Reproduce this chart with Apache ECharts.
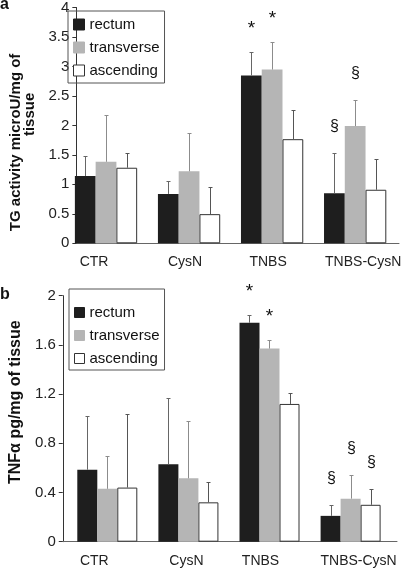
<!DOCTYPE html>
<html><head><meta charset="utf-8">
<script src="https://cdn.jsdelivr.net/npm/echarts@6/dist/echarts.min.js"></script>
<style>html,body{margin:0;padding:0;background:#fff}#c{width:404px;height:568px}</style>
</head><body><div id="c"></div>
<script>
// ---------- data ----------
const categories = ['CTR', 'CysN', 'TNBS', 'TNBS-CysN'];
const seriesNames = ['rectum', 'transverse', 'ascending'];

// panel a: TG activity
const tgTicks = [0, 0.5, 1, 1.5, 2, 2.5, 3, 3.5, 4];
const tgRectum = [1.13, 0.83, 2.82, 0.84];
const tgRectumErr = [0.33, 0.21, 0.39, 0.67];
const tgTransverse = [1.37, 1.21, 2.92, 1.97];
const tgTransverseErr = [0.78, 0.64, 0.46, 0.44];
const tgAscending = [1.27, 0.49, 1.75, 0.90];
const tgAscendingErr = [0.24, 0.45, 0.49, 0.52];
const tgRectumMark = ['', '', '*', '§'];
const tgTransverseMark = ['', '', '*', '§'];
const tgAscendingMark = ['', '', '', ''];

// panel b: TNFα
const tnfTicks = [0, 0.4, 0.8, 1.2, 1.6, 2];
const tnfRectum = [0.585, 0.63, 1.78, 0.21];
const tnfRectumErr = [0.435, 0.54, 0.06, 0.09];
const tnfTransverse = [0.43, 0.515, 1.57, 0.35];
const tnfTransverseErr = [0.27, 0.465, 0.07, 0.19];
const tnfAscending = [0.44, 0.32, 1.12, 0.30];
const tnfAscendingErr = [0.60, 0.165, 0.09, 0.13];
const tnfRectumMark = ['', '', '*', '§'];
const tnfTransverseMark = ['', '', '*', '§'];
const tnfAscendingMark = ['', '', '', '§'];

// ---------- styles ----------
const FONT = '"Liberation Sans", Arial, sans-serif';
const barColors = ['#1e1e1e', '#b5b5b5', '#ffffff'];
const barBorders = ['#1e1e1e', '#b5b5b5', '#333333'];
const errColors = ['#666666', '#8c8c8c', '#555555'];
const GAP_A = 0.25, GAP_B = 0.26;
const labelShiftA = [-12, -4, -4, 8];
const labelShiftB = [-13, -2, -9, 8];

function richLabels(shift) {
  const rich = {};
  shift.forEach((s, i) => {
    rich['l' + i] = {
      fontSize: 14, fontFamily: FONT, color: '#222',
      padding: s >= 0 ? [0, 0, 0, 2 * s] : [0, -2 * s, 0, 0]
    };
  });
  return rich;
}

function barSeries(idx, data, xi, yi, gap) {
  return {
    type: 'bar', name: seriesNames[idx], data: data,
    xAxisIndex: xi, yAxisIndex: yi,
    barGap: '0%', barCategoryGap: (gap * 100) + '%',
    itemStyle: { color: barColors[idx], borderColor: barBorders[idx], borderWidth: idx === 2 ? 1 : 0 },
    emphasis: { disabled: true }, silent: true, z: 2
  };
}

function errSeries(idx, means, errs, marks, xi, yi, gap) {
  return {
    type: 'custom', name: seriesNames[idx] + ' err',
    xAxisIndex: xi, yAxisIndex: yi, silent: true, z: 3,
    data: means.map((m, i) => [i, m, errs[i]]),
    renderItem(params, api) {
      const cat = api.value(0), m = api.value(1), e = api.value(2);
      const band = api.size([1, 0])[0];
      const bw = band * (1 - gap) / 3;
      const p0 = api.coord([cat, m]);
      const p1 = api.coord([cat, m + e]);
      const cx = Math.round(p0[0] + (idx - 1) * bw) + 0.5;
      const y0 = p0[1], y1 = Math.round(p1[1]) + 0.5;
      const st = { stroke: errColors[idx], lineWidth: 1 };
      const children = [
        { type: 'line', shape: { x1: cx, y1: y0, x2: cx, y2: y1 }, style: st },
        { type: 'line', shape: { x1: cx - 2, y1: y1, x2: cx + 2, y2: y1 }, style: st }
      ];
      const mk = marks[params.dataIndex];
      if (mk) {
        const isStar = mk === '*';
        children.push({
          type: 'text',
          style: {
            text: mk, x: cx, y: y1 - (isStar ? 24 : 27),
            align: 'center', verticalAlign: 'middle',
            fontSize: isStar ? 19 : 16, fontFamily: FONT, fill: '#111'
          }
        });
      }
      return { type: 'group', children };
    }
  };
}

const chart = echarts.init(document.getElementById('c'), null, { renderer: 'canvas' });

const legendCommon = {
  orient: 'vertical', icon: 'rect', itemGap: 6,
  borderColor: '#555', borderWidth: 1, selectedMode: false,
  data: seriesNames,
  itemStyle: { borderWidth: 1 },
  textStyle: { fontSize: 15, fontFamily: FONT, color: '#111', lineHeight: 17 }
};

const option = {
  animation: false,
  backgroundColor: '#fff',
  title: [
    { text: 'a', left: 0, top: -3, padding: 0, textStyle: { fontSize: 16, fontWeight: 'bold', fontFamily: FONT, color: '#111' } },
    { text: 'b', left: 0, top: 287, padding: 0, textStyle: { fontSize: 16, fontWeight: 'bold', fontFamily: FONT, color: '#111' } }
  ],
  legend: [
    Object.assign({}, legendCommon, { left: 68, top: 11, padding: [5, 5, 4, 5], itemWidth: 11, itemHeight: 11 }),
    Object.assign({}, legendCommon, { left: 69, top: 289, padding: [15, 5, 3, 5], itemWidth: 10, itemHeight: 10 })
  ],
  grid: [
    { left: 62, top: 5.3, width: 337, height: 238 },       // 0 frame a
    { left: 64.5, top: 5.3, width: 334.4, height: 238 },   // 1 bars a
    { left: 62, top: 295.7, width: 335, height: 246 },     // 2 frame b
    { left: 66.75, top: 295.7, width: 324.4, height: 246 } // 3 bars b
  ],
  xAxis: [
    { gridIndex: 0, type: 'value', min: 0, max: 1, axisLine: { show: true, onZero: false, lineStyle: { color: '#666', width: 1 } },
      axisTick: { show: false }, axisLabel: { show: false }, splitLine: { show: false } },
    { gridIndex: 1, type: 'category', data: categories, axisLine: { show: false }, axisTick: { show: false },
      axisLabel: { margin: 12, interval: 0, formatter: (v, i) => '{l' + i + '|' + v + '}', rich: richLabels(labelShiftA) } },
    { gridIndex: 2, type: 'value', min: 0, max: 1, axisLine: { show: true, onZero: false, lineStyle: { color: '#666', width: 1 } },
      axisTick: { show: false }, axisLabel: { show: false }, splitLine: { show: false } },
    { gridIndex: 3, type: 'category', data: categories, axisLine: { show: false }, axisTick: { show: false },
      axisLabel: { margin: 12, interval: 0, formatter: (v, i) => '{l' + i + '|' + v + '}', rich: richLabels(labelShiftB) } }
  ],
  yAxis: [
    { gridIndex: 0, type: 'value', min: tgTicks[0], max: tgTicks[tgTicks.length - 1], interval: tgTicks[1] - tgTicks[0],
      axisLine: { show: true, lineStyle: { color: '#333', width: 1 } },
      axisTick: { show: true, inside: false, length: 4, lineStyle: { color: '#333' } },
      axisLabel: { margin: 7, fontSize: 15, fontFamily: FONT, color: '#222' },
      splitLine: { show: false },
      name: '{a|TG activity microU/mg of}\n{b|tissue}', nameLocation: 'middle', nameGap: 27,
      nameTextStyle: {
        fontSize: 15, fontWeight: 'bold', fontFamily: FONT, color: '#111', lineHeight: 14.6,
        rich: {
          a: { fontSize: 15, fontWeight: 'bold', fontFamily: FONT, color: '#111', lineHeight: 14.6, padding: [0, 34, 0, 0] },
          b: { fontSize: 15, fontWeight: 'bold', fontFamily: FONT, color: '#111', lineHeight: 14.6, padding: [0, 0, 0, 22] }
        }
      }
    },
    { gridIndex: 1, type: 'value', min: tgTicks[0], max: tgTicks[tgTicks.length - 1], show: false },
    { gridIndex: 2, type: 'value', min: tnfTicks[0], max: tnfTicks[tnfTicks.length - 1], interval: tnfTicks[1] - tnfTicks[0],
      axisLine: { show: true, lineStyle: { color: '#333', width: 1 } },
      axisTick: { show: true, inside: false, length: 4, lineStyle: { color: '#333' } },
      axisLabel: { margin: 7, fontSize: 15, fontFamily: FONT, color: '#222' },
      splitLine: { show: false },
      name: '{a|TNFα pg/mg of tissue}', nameLocation: 'middle', nameGap: 37,
      nameTextStyle: {
        fontSize: 16, fontWeight: 'bold', fontFamily: FONT, color: '#111',
        rich: { a: { fontSize: 16, fontWeight: 'bold', fontFamily: FONT, color: '#111', padding: [0, 0, 0, 33] } }
      }
    },
    { gridIndex: 3, type: 'value', min: tnfTicks[0], max: tnfTicks[tnfTicks.length - 1], show: false }
  ],
  series: [
    barSeries(0, tgRectum, 1, 1, GAP_A),
    barSeries(1, tgTransverse, 1, 1, GAP_A),
    barSeries(2, tgAscending, 1, 1, GAP_A),
    errSeries(0, tgRectum, tgRectumErr, tgRectumMark, 1, 1, GAP_A),
    errSeries(1, tgTransverse, tgTransverseErr, tgTransverseMark, 1, 1, GAP_A),
    errSeries(2, tgAscending, tgAscendingErr, tgAscendingMark, 1, 1, GAP_A),
    barSeries(0, tnfRectum, 3, 3, GAP_B),
    barSeries(1, tnfTransverse, 3, 3, GAP_B),
    barSeries(2, tnfAscending, 3, 3, GAP_B),
    errSeries(0, tnfRectum, tnfRectumErr, tnfRectumMark, 3, 3, GAP_B),
    errSeries(1, tnfTransverse, tnfTransverseErr, tnfTransverseMark, 3, 3, GAP_B),
    errSeries(2, tnfAscending, tnfAscendingErr, tnfAscendingMark, 3, 3, GAP_B)
  ]
};
chart.setOption(option);
</script></body></html>
